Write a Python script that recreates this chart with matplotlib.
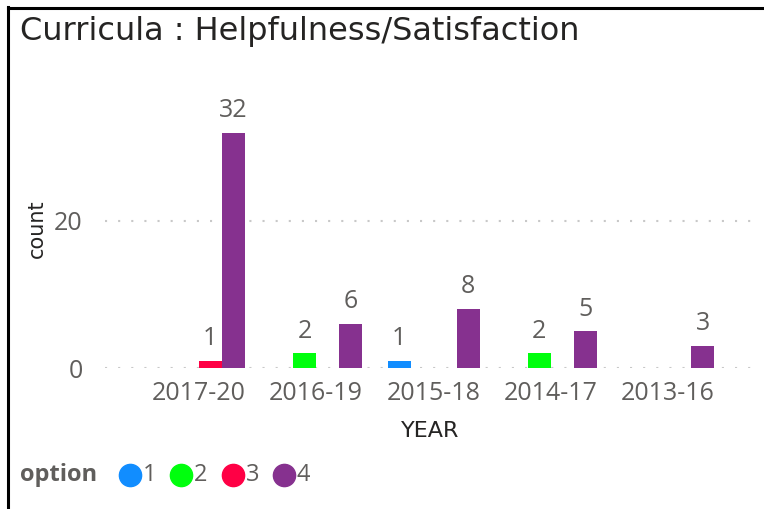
import matplotlib.pyplot as plt
import numpy as np
from matplotlib.lines import Line2D

years = ["2017-20", "2016-19", "2015-18", "2014-17", "2013-16"]
options = ["1", "2", "3", "4"]
colors = ["#118DFF", "#00FF0D", "#FF0045", "#86318F"]
# counts per option, one value per year (0 = no bar)
opt1 = [0, 0, 1, 0, 0]
opt2 = [0, 2, 0, 2, 0]
opt3 = [1, 0, 0, 0, 0]
opt4 = [32, 6, 8, 5, 3]
counts = [opt1, opt2, opt3, opt4]

W, H = 764, 509
fig = plt.figure(figsize=(W / 100, H / 100), dpi=100)

gray = "#605E5C"
dark = "#252423"
tick_font = "Open Sans"
head_font = "DejaVu Sans"

# frame lines of the visual (top and left edge)
fig.add_artist(Line2D([8 / W, 8 / W], [0, 1 - 7 / H], color="black", lw=2.2))
fig.add_artist(Line2D([8 / W, 1], [1 - 8 / H, 1 - 8 / H], color="black", lw=2.2))

fig.text(20 / W, 1 - 40 / H, "Curricula : Helpfulness/Satisfaction",
         fontsize=23, family=head_font, color=dark, va="baseline", ha="left")

ax = fig.add_axes([105 / W, (H - 368) / H, 650 / W, (368 - 90) / H])

x = np.arange(len(years))
width = 0.196
for i, vals in enumerate(counts):
    pos = x + (i - 1.5) * width
    for p, v in zip(pos, vals):
        if v == 0:
            continue
        ax.bar(p, v, width=width, color=colors[i], zorder=3)
        ax.annotate(str(v), (p, v), xytext=(0, 7), textcoords="offset points",
                    ha="center", va="bottom", fontsize=18, color=gray,
                    family=tick_font)

ax.set_xlim(-0.80, 4.74)
ax.set_ylim(0, 37.8)
ax.set_yticks([0, 20])
ax.set_xticks(x)
ax.set_xticklabels(years)
for s in ax.spines.values():
    s.set_visible(False)
ax.tick_params(length=0)
ax.tick_params(axis="y", pad=16)
ax.tick_params(axis="x", pad=9.5)
for lab in ax.get_xticklabels() + ax.get_yticklabels():
    lab.set_family(tick_font)
    lab.set_fontsize(18)
    lab.set_color(gray)
ax.grid(axis="y", color="#C8C8C8", lw=1.5, linestyle=(0, (1, 5.3)), zorder=0)

ax.set_xlabel("YEAR", fontsize=16, family=head_font, color=dark, labelpad=11)
ax.set_ylabel("count", fontsize=15, family=head_font, color=dark, labelpad=5)

# legend, drawn in figure pixels
ly = 1 - 475 / H
fig.text(20 / W, ly, "option", fontsize=17, fontweight="bold",
         family=tick_font, color=gray, va="center", ha="left")
for k, (opt, c) in enumerate(zip(options, colors)):
    cx = 130 + k * 51.3
    fig.add_artist(Line2D([cx / W], [ly], marker="o", markersize=16,
                          markerfacecolor=c, markeredgecolor=c, linestyle=""))
    fig.text((cx + 13) / W, ly, opt, fontsize=17, family=tick_font,
             color=gray, va="center", ha="left")

fig.savefig("out.png", dpi=100)
